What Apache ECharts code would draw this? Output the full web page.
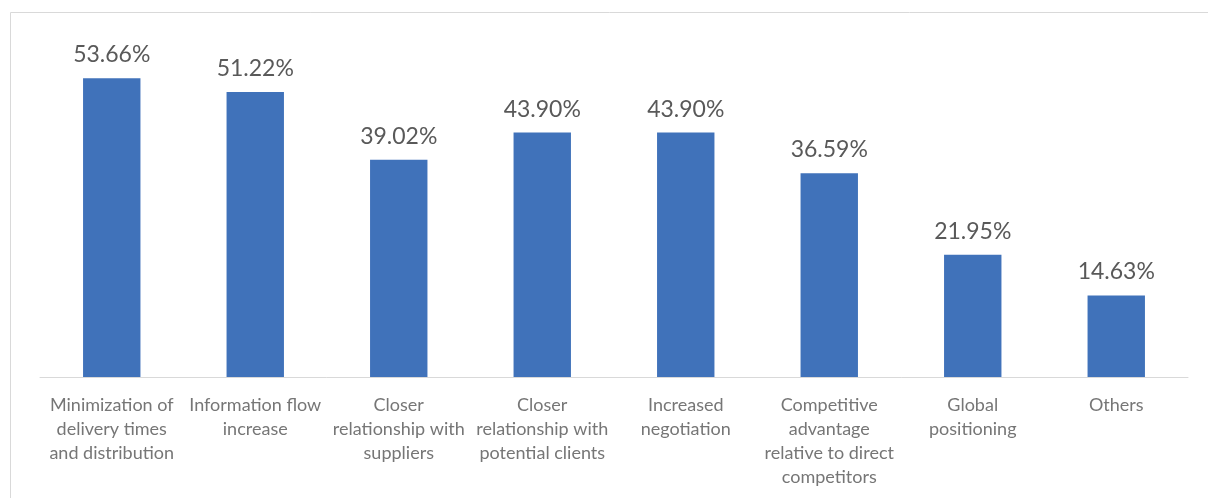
<!DOCTYPE html>
<html><head><meta charset="utf-8">
<script src="https://cdn.jsdelivr.net/npm/echarts@6/dist/echarts.min.js"></script>
<style>html,body{margin:0;padding:0;background:#fff}#c{width:1208px;height:498px}</style>
</head><body><div id="c"></div>
<script>
const categories = [
  "Minimization of\ndelivery times\nand distribution",
  "Information flow\nincrease",
  "Closer\nrelationship with\nsuppliers",
  "Closer\nrelationship with\npotential clients",
  "Increased\nnegotiation",
  "Competitive\nadvantage\nrelative to direct\ncompetitors",
  "Global\npositioning",
  "Others"
];
const values = [53.66, 51.22, 39.02, 43.90, 43.90, 36.59, 21.95, 14.63];

const chart = echarts.init(document.getElementById('c'));
chart.setOption({
  animation: false,
  graphic: [{
    type: 'rect', shape: {x: 10.5, y: 12.5, width: 1210, height: 500},
    style: {fill: 'none', stroke: '#d9d9d9', lineWidth: 1}, silent: true, z: -1
  }],
  grid: {left: 40, right: 20, top: 43, bottom: 121},
  xAxis: {
    type: 'category', data: categories,
    axisLine: {lineStyle: {color: '#d9d9d9', width: 1}},
    axisTick: {show: false},
    axisLabel: {interval: 0, color: '#767676', fontSize: 18, fontFamily: 'Lato, "Open Sans", sans-serif', lineHeight: 24, margin: 16}
  },
  yAxis: {type: 'value', min: 0, max: 60, show: false, splitLine: {show: false}},
  series: [{
    type: 'bar', data: values, barCategoryGap: '60%',
    itemStyle: {color: '#4072BA'},
    label: {show: true, position: 'top', distance: 12, color: '#595959', fontSize: 23,
      fontFamily: 'Lato, "Open Sans", sans-serif',
      formatter: p => p.value.toFixed(2) + '%'}
  }]
});
</script></body></html>
